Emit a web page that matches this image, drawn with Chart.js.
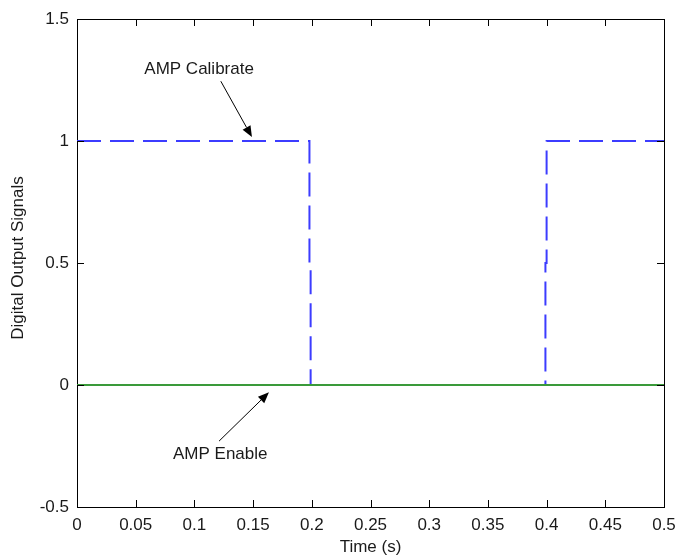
<!DOCTYPE html>
<html>
<head>
<meta charset="utf-8">
<script src="https://cdn.jsdelivr.net/npm/chart.js@4.4.1/dist/chart.umd.min.js"></script>
<style>
  html, body { margin: 0; padding: 0; background: #ffffff; }
  #wrap { width: 677px; height: 558px; }
</style>
</head>
<body>
<div id="wrap"><canvas id="c" width="677" height="558"></canvas></div>
<script>
// ---- data ----
const calTimes  = [0, 0.198, 0.198, 0.199, 0.199, 0.399, 0.399, 0.4, 0.4, 0.5];
const calValues = [1, 1,     0.5,   0.5,   0,     0,     0.5,   0.5, 1,   1];
const enTimes   = [0, 0.5];
const enValues  = [0, 0];
const xTicks = [0, 0.05, 0.1, 0.15, 0.2, 0.25, 0.3, 0.35, 0.4, 0.45, 0.5];
const yTicks = [-0.5, 0, 0.5, 1, 1.5];
const xTitle = 'Time (s)';
const yTitle = 'Digital Output Signals';
const notes = [
  { text: 'AMP Calibrate', tx: 0.104, ty: 1.295, fromX: 0.1225, fromY: 1.245, toX: 0.149, toY: 1.016 },
  { text: 'AMP Enable',    tx: 0.122, ty: -0.285, fromX: 0.121, fromY: -0.23, toX: 0.1635, toY: -0.03 }
];

const FONT = '"Liberation Sans", Arial, sans-serif';
const TXT = '#1a1a1a';

const toPts = (xs, ys) => xs.map((x, i) => ({ x: x, y: ys[i] }));

const decor = {
  id: 'decor',
  afterDraw(chart) {
    const ctx = chart.ctx;
    const xs = chart.scales.x, ys = chart.scales.y;
    const a = chart.chartArea;
    ctx.save();
    ctx.strokeStyle = '#000';
    ctx.lineWidth = 1;
    ctx.beginPath();
    ctx.moveTo(a.left + 0.5, a.top + 0.5);
    ctx.lineTo(a.right + 0.5, a.top + 0.5);
    ctx.lineTo(a.right + 0.5, a.bottom + 0.5);
    ctx.stroke();
    const L = 7;
    ctx.beginPath();
    xTicks.forEach(v => {
      const px = Math.round(xs.getPixelForValue(v)) + 0.5;
      ctx.moveTo(px, a.bottom); ctx.lineTo(px, a.bottom - L);
      ctx.moveTo(px, a.top); ctx.lineTo(px, a.top + L);
    });
    yTicks.forEach(v => {
      const py = Math.round(ys.getPixelForValue(v)) + 0.5;
      ctx.moveTo(a.left, py); ctx.lineTo(a.left + L, py);
      ctx.moveTo(a.right, py); ctx.lineTo(a.right - L, py);
    });
    ctx.stroke();
    ctx.fillStyle = TXT;
    ctx.font = '17px ' + FONT;
    ctx.textAlign = 'center';
    ctx.textBaseline = 'middle';
    ctx.fillText(xTitle, (a.left + a.right) / 2, 547);
    ctx.save();
    ctx.translate(18, (a.top + a.bottom) / 2 - 5);
    ctx.rotate(-Math.PI / 2);
    ctx.fillText(yTitle, 0, 0);
    ctx.restore();
    notes.forEach(n => {
      ctx.fillStyle = TXT;
      ctx.font = '17px ' + FONT;
      ctx.textAlign = 'center';
      ctx.textBaseline = 'middle';
      ctx.fillText(n.text, xs.getPixelForValue(n.tx), ys.getPixelForValue(n.ty));
      const x1 = xs.getPixelForValue(n.fromX), y1 = ys.getPixelForValue(n.fromY);
      const x2 = xs.getPixelForValue(n.toX), y2 = ys.getPixelForValue(n.toY);
      const ang = Math.atan2(y2 - y1, x2 - x1);
      const hl = 11, hw = 4.5;
      const bx = x2 - hl * Math.cos(ang), by = y2 - hl * Math.sin(ang);
      ctx.strokeStyle = '#000';
      ctx.lineWidth = 1;
      ctx.beginPath();
      ctx.moveTo(x1, y1); ctx.lineTo(bx, by);
      ctx.stroke();
      ctx.fillStyle = '#000';
      ctx.beginPath();
      ctx.moveTo(x2, y2);
      ctx.lineTo(bx + hw * Math.sin(ang), by - hw * Math.cos(ang));
      ctx.lineTo(bx - hw * Math.sin(ang), by + hw * Math.cos(ang));
      ctx.closePath();
      ctx.fill();
    });
    ctx.restore();
  }
};

new Chart(document.getElementById('c'), {
  type: 'line',
  data: {
    datasets: [
      {
        label: 'AMP Enable',
        data: toPts(enTimes, enValues),
        borderColor: '#3a9a3a',
        borderWidth: 2,
        pointRadius: 0,
        tension: 0,
        order: 0
      },
      {
        label: 'AMP Calibrate',
        data: toPts(calTimes, calValues),
        borderColor: '#3c3cff',
        borderWidth: 2,
        borderDash: [24, 9],
        pointRadius: 0,
        tension: 0,
        order: 1
      }
    ]
  },
  options: {
    responsive: false,
    animation: false,
    layout: { padding: { top: 19, right: 13, left: 0, bottom: 0 } },
    plugins: { legend: { display: false }, tooltip: { enabled: false } },
    scales: {
      x: {
        type: 'linear',
        min: 0, max: 0.5,
        afterBuildTicks: s => { s.ticks = xTicks.map(v => ({ value: v })); },
        afterFit: s => { s.height = 51; s.paddingLeft = 0; s.paddingRight = 0; },
        grid: { display: false },
        border: { display: true, color: '#000', width: 1 },
        ticks: {
          color: TXT, padding: 0, maxRotation: 0, autoSkip: false,
          font: { family: FONT, size: 17 },
          callback: v => String(v)
        }
      },
      y: {
        type: 'linear',
        min: -0.5, max: 1.5,
        afterBuildTicks: s => { s.ticks = yTicks.map(v => ({ value: v })); },
        afterFit: s => { s.width = 77; s.paddingTop = 0; s.paddingBottom = 0; },
        grid: { display: false },
        border: { display: true, color: '#000', width: 1 },
        ticks: {
          color: TXT, padding: 0,
          font: { family: FONT, size: 17 },
          callback: v => String(v)
        }
      }
    }
  },
  plugins: [decor]
});
</script>
</body>
</html>
